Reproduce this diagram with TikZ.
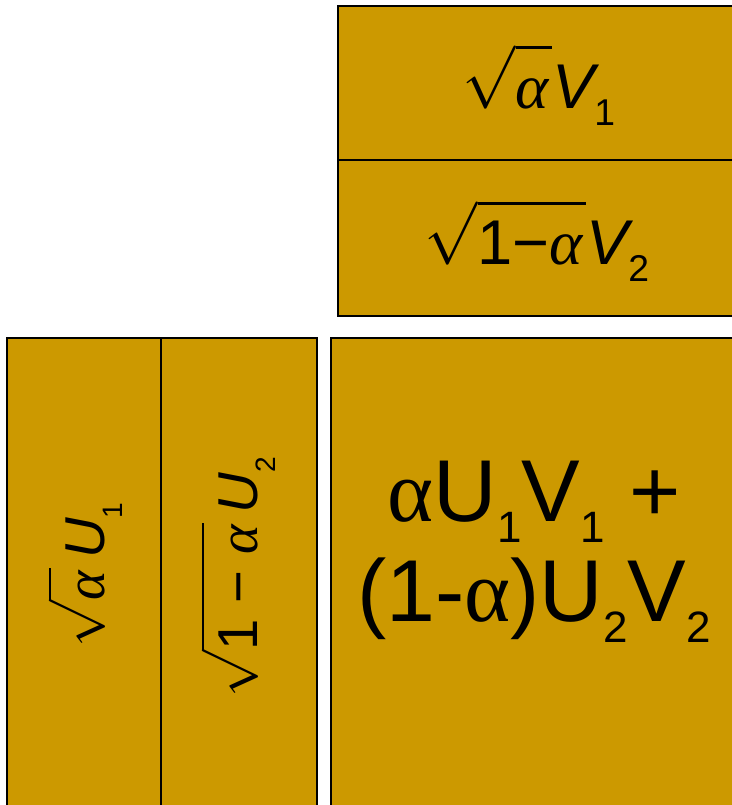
\documentclass[tikz,border=0pt]{standalone}
\usepackage{fontspec}
\setmainfont{Liberation Sans}
\newfontfamily\greekfont{Liberation Serif}
\usetikzlibrary{positioning}
\definecolor{blockgold}{HTML}{CC9900}
\newcommand{\ialpha}{{\greekfont\itshape α}}
\newcommand{\ualpha}{{\greekfont α}}
% lowered, smaller index
\newcommand{\dn}[3]{\raisebox{#1}{\fontsize{#2}{#2}\selectfont\upshape #3}}
% tall root over text
\newcommand{\troot}[1]{$\sqrt{\mbox{\rule{0pt}{8.8pt}#1\kern0.5pt}}$}

\begin{document}
\begin{tikzpicture}[
  x=0.02cm, y=-0.02cm,
  block/.style={draw=black, fill=blockgold, line width=0.8pt},
  factor/.style={inner sep=0pt, anchor=base, scale=3.6, transform shape,
                 font=\fontsize{10}{12}\selectfont},
  sidefactor/.style={inner sep=0pt, anchor=base, rotate=90, scale=3.2, transform shape,
                     font=\fontsize{10}{12}\selectfont},
  product/.style={inner sep=0pt, align=center, font=\fontsize{50}{57}\selectfont}
]
\useasboundingbox (0,0) rectangle (732,805);
\clip (0,0) rectangle (732,805);

% V factors
\draw[block] (338,6) rectangle (745,160);
\draw[block] (338,160) rectangle (745,316);
\node[factor] (v1) at (539,108) {\troot{\ialpha}\itshape V\dn{-2.7pt}{5.9pt}{1}};
\node[factor] (v2) at (537,264) {\troot{1−\ialpha}\itshape V\dn{-2.7pt}{5.9pt}{2}};

% U factors
\draw[block] (7,338) rectangle (161,820);
\draw[block] (161,338) rectangle (317,820);
\node[sidefactor] (u1) at (104,575) {\troot{\ialpha}\,\itshape U\dn{-3.3pt}{5pt}{1}};
\node[sidefactor] (u2) at (257,577) {\troot{1 − \ialpha}\,\itshape U\dn{-3.3pt}{5pt}{2}};

% product
\draw[block] (331,338) rectangle (745,820);
\node[product] (uv) at (534,552) {\ualpha U\dn{-12pt}{25pt}{1}V\dn{-12pt}{25pt}{1} +\\(1-\ualpha)U\dn{-12pt}{25pt}{2}V\dn{-12pt}{25pt}{2}};
\end{tikzpicture}
\end{document}
